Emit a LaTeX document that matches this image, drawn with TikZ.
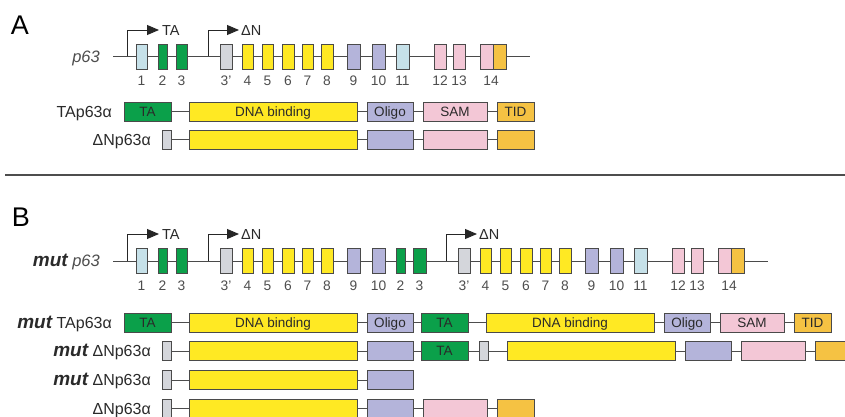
\documentclass[tikz,border=0pt]{standalone}
\usepackage{fontspec}
\setmainfont{Liberation Sans}
\usetikzlibrary{arrows.meta}
\definecolor{lblue}{HTML}{C6E1E9}
\definecolor{grn}{HTML}{0BA04A}
\definecolor{gry}{HTML}{D4D6DB}
\definecolor{yel}{HTML}{FFE923}
\definecolor{lav}{HTML}{B4B4DA}
\definecolor{pnk}{HTML}{F3C7D6}
\definecolor{org}{HTML}{F5C243}
\definecolor{edgec}{HTML}{4A4A4A}
\definecolor{txt}{HTML}{2A2A2A}
\definecolor{numc}{HTML}{4D4D4D}
\newcommand{\fs}[1]{\fontsize{#1}{#1}\selectfont}
\newcommand{\mutx}{{\fs{19}\bfseries\itshape mut}}
\newcommand{\dm}[6]{\node[dom, fill=#5, minimum width={#3-#2}] (#1) at ({(#2+#3)/2},#4) {#6};}
\begin{document}
\begin{tikzpicture}[x=1pt,y=-1pt,
  ex/.style={draw=edgec, line width=0.8pt, minimum height=25pt, inner sep=0pt},
  dom/.style={draw=edgec, line width=0.8pt, minimum height=19pt, inner sep=0pt, text=txt, font=\fs{13.5}, text height=9.7pt, text depth=0pt},
  num/.style={text=numc, font=\fs{13.8}, inner sep=0pt, text height=9.9pt, text depth=0pt},
  gene/.style={draw=edgec, line width=1pt},
  link/.style={draw=numc, line width=0.9pt},
  prom/.style={draw=black!85, line width=0.9pt, -{Triangle[length=12pt,width=10pt]}},
  promtxt/.style={text=txt, font=\fs{14.5}, anchor=west, inner sep=0pt, text height=10.4pt, text depth=0pt},
  rowlab/.style={text=txt, font=\fs{16}, anchor=east, inner sep=0pt, text height=11.5pt, text depth=0pt},
  panel/.style={text=black, font=\fs{27}, inner sep=0pt}]
\useasboundingbox (0,0) rectangle (845,417);

% ---------- Panel A ----------
\node[panel] (lA) at (20,25) {A};
\node[rowlab, font=\fs{16.5}\itshape, text=numc] (gA) at (100,57) {p63};
\coordinate (gAs) at (113,56.5);
\coordinate (gAe) at (530,56.5);
\draw[gene] (gAs) -- (gAe);
\foreach \l/\r/\c/\n/\t in {136/147/lblue/1/1, 158/167/grn/2/2, 176/187/grn/3/3, 220/232/gry/3p/3', 242/253/yel/4/4, 262/273/yel/5/5, 282/294/yel/6/6, 302/313/yel/7/7, 321/333/yel/8/8, 347/360/lav/9/9, 372/385/lav/10/10, 396/409/lblue/11/11, 434/446/pnk/12/12, 453/465/pnk/13/13}{
  \node[ex, fill=\c, minimum width={\r-\l}] (A\n) at ({(\l+\r)/2},56.5) {};
  \node[num] (nA\n) at ({(\l+\r)/2},81) {\t};
}
\node[ex, fill=pnk, minimum width=13] (A14a) at (486.5,56.5) {};
\node[ex, fill=org, minimum width=13] (A14b) at (499.5,56.5) {};
\node[num] (nA14) at (491,81) {14};
\coordinate (pA1) at (127,56.5); \coordinate (pA1e) at (159,30);
\draw[prom] (pA1) |- (pA1e);
\node[promtxt] (tA1) at (162,30) {TA};
\coordinate (pA2) at (208,56.5); \coordinate (pA2e) at (239,30);
\draw[prom] (pA2) |- (pA2e);
\node[promtxt] (tA2) at (241,30) {ΔN};

% protein rows A
\node[rowlab] (rA1) at (112,111.5) {TAp63α};
\dm{a1ta}{124}{171}{111.5}{grn}{TA}
\dm{a1dna}{189}{357}{111.5}{yel}{DNA binding}
\dm{a1ol}{367}{413}{111.5}{lav}{Oligo}
\dm{a1sam}{423}{487}{111.5}{pnk}{SAM}
\dm{a1tid}{497}{534}{111.5}{org}{TID}
\draw[link] (a1ta.east) -- (a1dna.west);
\draw[link] (a1dna.east) -- (a1ol.west);
\draw[link] (a1ol.east) -- (a1sam.west);
\draw[link] (a1sam.east) -- (a1tid.west);

\node[rowlab] (rA2) at (151,139.5) {ΔNp63α};
\dm{a2g}{162}{171}{139.5}{gry}{}
\dm{a2dna}{189}{357}{139.5}{yel}{}
\dm{a2ol}{367}{413}{139.5}{lav}{}
\dm{a2sam}{423}{487}{139.5}{pnk}{}
\dm{a2tid}{497}{534}{139.5}{org}{}
\draw[link] (a2g.east) -- (a2dna.west);
\draw[link] (a2dna.east) -- (a2ol.west);
\draw[link] (a2ol.east) -- (a2sam.west);
\draw[link] (a2sam.east) -- (a2tid.west);

% separator
\coordinate (sepL) at (5,175); \coordinate (sepR) at (845,175);
\draw[draw=numc, line width=1.6pt] (sepL) -- (sepR);

% ---------- Panel B ----------
\node[panel] (lB) at (21,217) {B};
\node[rowlab] (gB) at (100,261) {\mutx\ {\fs{16.5}\itshape\color{numc}p63}};
\coordinate (gBs) at (113,261);
\coordinate (gBe) at (768,261);
\draw[gene] (gBs) -- (gBe);
\foreach \l/\r/\c/\n/\t in {136/147/lblue/1/1, 158/167/grn/2/2, 176/187/grn/3/3, 220/232/gry/3p/3', 242/253/yel/4/4, 262/273/yel/5/5, 282/294/yel/6/6, 302/313/yel/7/7, 321/333/yel/8/8, 347/360/lav/9/9, 372/385/lav/10/10, 396/405/grn/2b/2, 413/426/grn/3b/3, 458/470/gry/3pb/3', 480/491/yel/4b/4, 500/511/yel/5b/5, 520/532/yel/6b/6, 540/551/yel/7b/7, 559/571/yel/8b/8, 585/598/lav/9b/9, 610/623/lav/10b/10, 634/647/lblue/11b/11, 672/684/pnk/12b/12, 691/703/pnk/13b/13}{
  \node[ex, fill=\c, minimum width={\r-\l}] (B\n) at ({(\l+\r)/2},261) {};
  \node[num] (nB\n) at ({(\l+\r)/2},286) {\t};
}
\node[ex, fill=pnk, minimum width=13] (B14a) at (724.5,261) {};
\node[ex, fill=org, minimum width=13] (B14b) at (737.5,261) {};
\node[num] (nB14) at (729,286) {14};
\coordinate (pB1) at (127,261); \coordinate (pB1e) at (159,234);
\draw[prom] (pB1) |- (pB1e);
\node[promtxt] (tB1) at (162,234) {TA};
\coordinate (pB2) at (208,261); \coordinate (pB2e) at (239,234);
\draw[prom] (pB2) |- (pB2e);
\node[promtxt] (tB2) at (241,234) {ΔN};
\coordinate (pB3) at (446,261); \coordinate (pB3e) at (477,234);
\draw[prom] (pB3) |- (pB3e);
\node[promtxt] (tB3) at (479,234) {ΔN};

% protein rows B
\node[rowlab] (rB1) at (112,322.5) {\mutx\ TAp63α};
\dm{b1ta}{124}{171}{322.5}{grn}{TA}
\dm{b1dna}{189}{357}{322.5}{yel}{DNA binding}
\dm{b1ol}{367}{413}{322.5}{lav}{Oligo}
\dm{b1tb}{421}{468}{322.5}{grn}{TA}
\dm{b1dnb}{486}{654}{322.5}{yel}{DNA binding}
\dm{b1olb}{664}{710}{322.5}{lav}{Oligo}
\dm{b1sam}{720}{784}{322.5}{pnk}{SAM}
\dm{b1tid}{794}{831}{322.5}{org}{TID}
\draw[link] (b1ta.east) -- (b1dna.west);
\draw[link] (b1dna.east) -- (b1ol.west);
\draw[link] (b1ol.east) -- (b1tb.west);
\draw[link] (b1tb.east) -- (b1dnb.west);
\draw[link] (b1dnb.east) -- (b1olb.west);
\draw[link] (b1olb.east) -- (b1sam.west);
\draw[link] (b1sam.east) -- (b1tid.west);

\node[rowlab] (rB2) at (151,351) {\mutx\ ΔNp63α};
\dm{b2g}{162}{171}{351}{gry}{}
\dm{b2dna}{189}{357}{351}{yel}{}
\dm{b2ol}{367}{413}{351}{lav}{}
\dm{b2ta}{421}{468}{351}{grn}{TA}
\dm{b2gb}{479}{488}{351}{gry}{}
\dm{b2dnb}{507}{675}{351}{yel}{}
\dm{b2olb}{685}{731}{351}{lav}{}
\dm{b2sam}{741}{805}{351}{pnk}{}
\dm{b2tid}{815}{852}{351}{org}{}
\draw[link] (b2g.east) -- (b2dna.west);
\draw[link] (b2dna.east) -- (b2ol.west);
\draw[link] (b2ol.east) -- (b2ta.west);
\draw[link] (b2ta.east) -- (b2gb.west);
\draw[link] (b2gb.east) -- (b2dnb.west);
\draw[link] (b2dnb.east) -- (b2olb.west);
\draw[link] (b2olb.east) -- (b2sam.west);
\draw[link] (b2sam.east) -- (b2tid.west);

\node[rowlab] (rB3) at (151,380) {\mutx\ ΔNp63α};
\dm{b3g}{162}{171}{380}{gry}{}
\dm{b3dna}{189}{357}{380}{yel}{}
\dm{b3ol}{367}{413}{380}{lav}{}
\draw[link] (b3g.east) -- (b3dna.west);
\draw[link] (b3dna.east) -- (b3ol.west);

\node[rowlab] (rB4) at (151,408.5) {ΔNp63α};
\dm{b4g}{162}{171}{408.5}{gry}{}
\dm{b4dna}{189}{357}{408.5}{yel}{}
\dm{b4ol}{367}{413}{408.5}{lav}{}
\dm{b4sam}{423}{487}{408.5}{pnk}{}
\dm{b4tid}{497}{534}{408.5}{org}{}
\draw[link] (b4g.east) -- (b4dna.west);
\draw[link] (b4dna.east) -- (b4ol.west);
\draw[link] (b4ol.east) -- (b4sam.west);
\draw[link] (b4sam.east) -- (b4tid.west);
\end{tikzpicture}
\end{document}
